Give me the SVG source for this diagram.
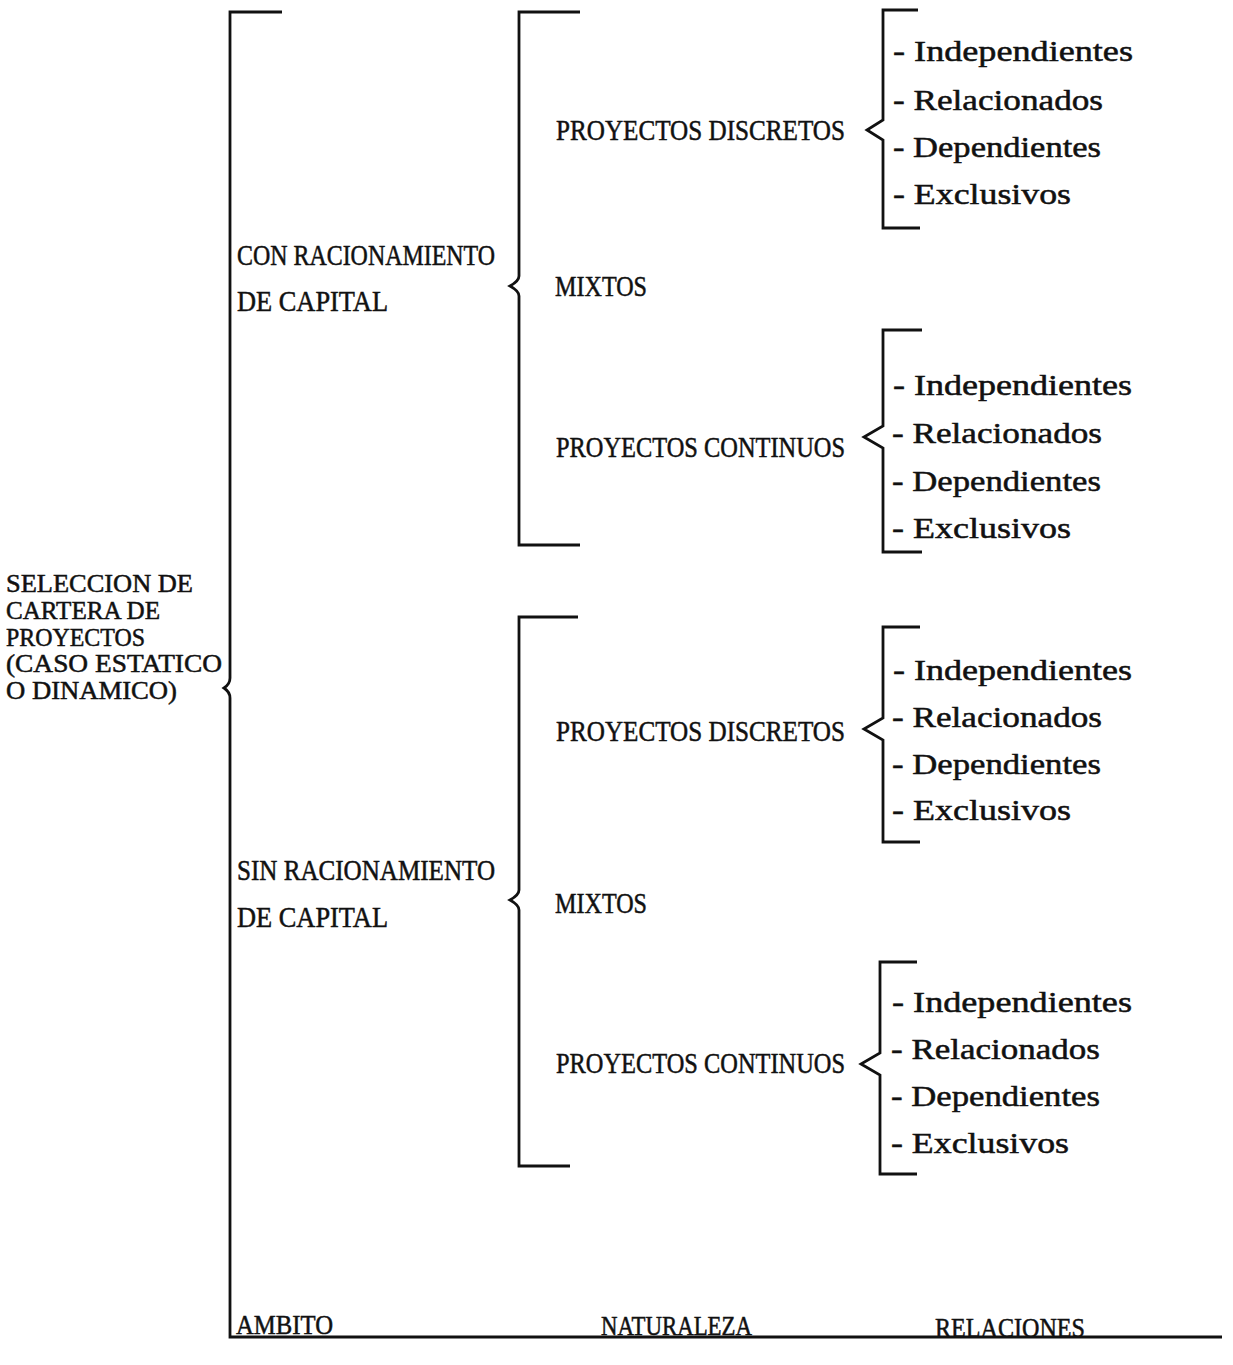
<svg xmlns="http://www.w3.org/2000/svg" width="1233" height="1365" viewBox="0 0 1233 1365">
<style>
text{font-family:"Liberation Serif","DejaVu Serif",serif;font-size:29px;fill:#111;stroke:#111;stroke-width:0.5}
.s{font-size:27px}
.l{font-size:25px}
.b{fill:none;stroke:#111;stroke-width:2.8;stroke-linejoin:miter}
</style>
<rect width="1233" height="1365" fill="#fff"/>
<g id="connectors">
<path class="b" d="M282,12 H230 V678 Q230,684 224,688 Q230,692 230,698 V1337 H1222"/>
<path class="b" d="M580,12 H519 V276 Q519,281 510,286 Q519,291 519,296 V545 H580"/>
<path class="b" d="M578,617 H519 V890 Q519,895 510,900 Q519,905 519,910 V1166 H570"/>
<path class="b" d="M918,10 H883 V120 L867,130 L883,140 V228 H920"/>
<path class="b" d="M922,330 H883 V426 L864,437 L883,448 V552 H922"/>
<path class="b" d="M920,627 H883 V718 L864,729 L883,740 V842 H920"/>
<path class="b" d="M917,962 H880 V1053 L861,1064 L880,1075 V1174 H917"/>
</g>
<g id="root">
<text class="l" x="6" y="592" textLength="187" lengthAdjust="spacingAndGlyphs">SELECCION DE</text>
<text class="l" x="6" y="619" textLength="154" lengthAdjust="spacingAndGlyphs">CARTERA DE</text>
<text class="l" x="6" y="646" textLength="139" lengthAdjust="spacingAndGlyphs">PROYECTOS</text>
<text class="l" x="6" y="672" textLength="216" lengthAdjust="spacingAndGlyphs">(CASO ESTATICO</text>
<text class="l" x="6" y="699" textLength="171" lengthAdjust="spacingAndGlyphs">O DINAMICO)</text>
</g>
<g id="con">
<text x="237" y="265" textLength="258" lengthAdjust="spacingAndGlyphs">CON RACIONAMIENTO</text>
<text x="237" y="311" textLength="151" lengthAdjust="spacingAndGlyphs">DE CAPITAL</text>
</g>
<g id="sin">
<text x="237" y="880" textLength="258" lengthAdjust="spacingAndGlyphs">SIN RACIONAMIENTO</text>
<text x="237" y="927" textLength="151" lengthAdjust="spacingAndGlyphs">DE CAPITAL</text>
</g>
<g id="con-discretos"><text x="556" y="140" textLength="289" lengthAdjust="spacingAndGlyphs">PROYECTOS DISCRETOS</text></g>
<g id="con-mixtos"><text x="555" y="296" textLength="92" lengthAdjust="spacingAndGlyphs">MIXTOS</text></g>
<g id="con-continuos"><text x="556" y="457" textLength="289" lengthAdjust="spacingAndGlyphs">PROYECTOS CONTINUOS</text></g>
<g id="sin-discretos"><text x="556" y="741" textLength="289" lengthAdjust="spacingAndGlyphs">PROYECTOS DISCRETOS</text></g>
<g id="sin-mixtos"><text x="555" y="913" textLength="92" lengthAdjust="spacingAndGlyphs">MIXTOS</text></g>
<g id="sin-continuos"><text x="556" y="1073" textLength="289" lengthAdjust="spacingAndGlyphs">PROYECTOS CONTINUOS</text></g>
<g id="rel-1">
<text x="893" y="61" textLength="240" lengthAdjust="spacingAndGlyphs">- Independientes</text>
<text x="893" y="110" textLength="210" lengthAdjust="spacingAndGlyphs">- Relacionados</text>
<text x="893" y="157" textLength="208" lengthAdjust="spacingAndGlyphs">- Dependientes</text>
<text x="893" y="204" textLength="178" lengthAdjust="spacingAndGlyphs">- Exclusivos</text>
</g>
<g id="rel-2">
<text x="893" y="395" textLength="239" lengthAdjust="spacingAndGlyphs">- Independientes</text>
<text x="892" y="443" textLength="210" lengthAdjust="spacingAndGlyphs">- Relacionados</text>
<text x="892" y="491" textLength="209" lengthAdjust="spacingAndGlyphs">- Dependientes</text>
<text x="892" y="538" textLength="179" lengthAdjust="spacingAndGlyphs">- Exclusivos</text>
</g>
<g id="rel-3">
<text x="893" y="680" textLength="239" lengthAdjust="spacingAndGlyphs">- Independientes</text>
<text x="892" y="727" textLength="210" lengthAdjust="spacingAndGlyphs">- Relacionados</text>
<text x="892" y="774" textLength="209" lengthAdjust="spacingAndGlyphs">- Dependientes</text>
<text x="892" y="820" textLength="179" lengthAdjust="spacingAndGlyphs">- Exclusivos</text>
</g>
<g id="rel-4">
<text x="892" y="1012" textLength="240" lengthAdjust="spacingAndGlyphs">- Independientes</text>
<text x="891" y="1059" textLength="209" lengthAdjust="spacingAndGlyphs">- Relacionados</text>
<text x="891" y="1106" textLength="209" lengthAdjust="spacingAndGlyphs">- Dependientes</text>
<text x="891" y="1153" textLength="178" lengthAdjust="spacingAndGlyphs">- Exclusivos</text>
</g>
<g id="footer">
<text class="s" x="236" y="1334" textLength="97" lengthAdjust="spacingAndGlyphs">AMBITO</text>
<text class="s" x="601" y="1335" textLength="151" lengthAdjust="spacingAndGlyphs">NATURALEZA</text>
<text class="s" x="935" y="1337" textLength="150" lengthAdjust="spacingAndGlyphs">RELACIONES</text>
</g>
</svg>
